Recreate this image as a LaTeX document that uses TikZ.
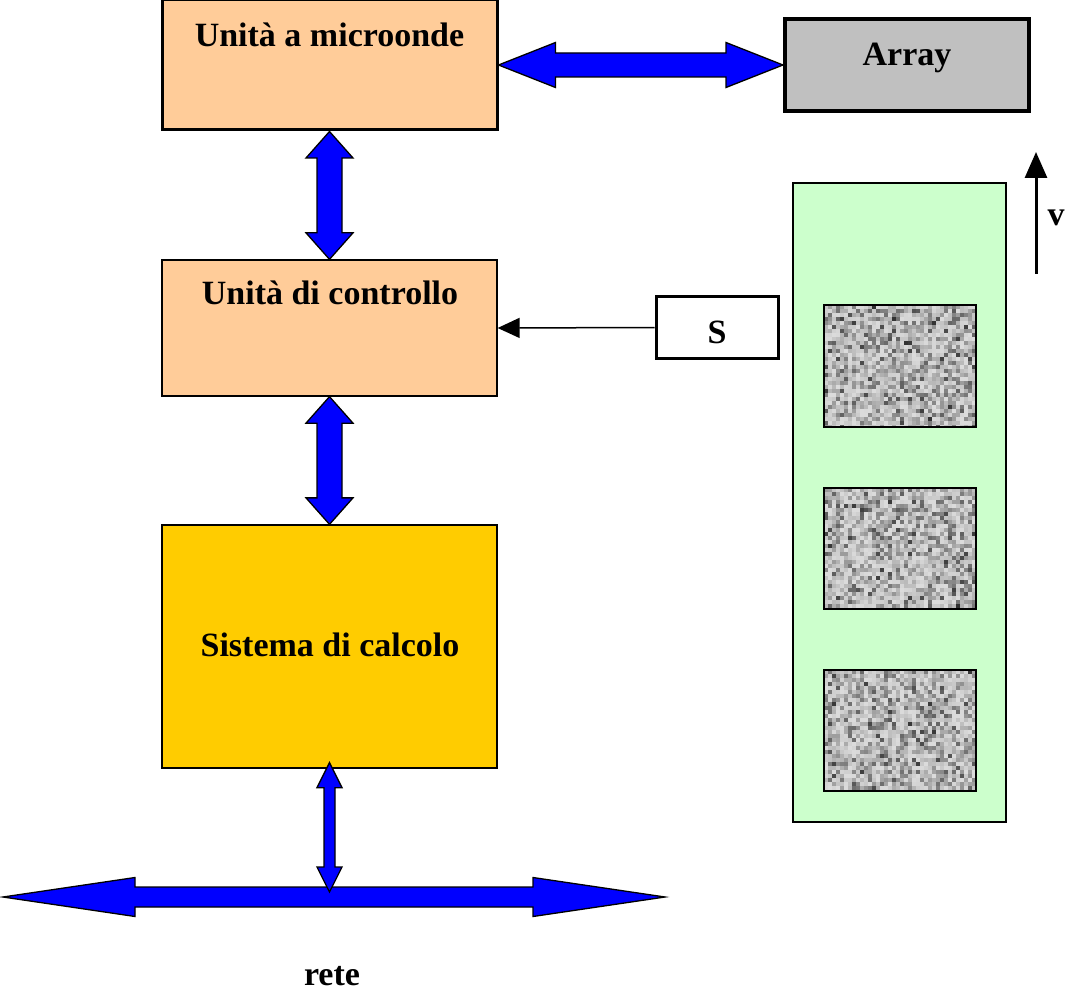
\documentclass[tikz,border=0pt]{standalone}
\usepackage{fontspec}
\setmainfont{Liberation Serif}
\usetikzlibrary{calc,arrows.meta}
\definecolor{peach}{HTML}{FFCC99}
\definecolor{gold}{HTML}{FFCC00}
\definecolor{mint}{HTML}{CCFFCC}
\definecolor{silver}{HTML}{C0C0C0}
\definecolor{fatblue}{HTML}{0000FF}

% #1 start, #2 end, #3 shaft half width, #4 head half width, #5 head length
\newcommand\fatarrow[5]{%
  \coordinate (fa1) at (#1);
  \coordinate (fa2) at (#2);
  \coordinate (fb1) at ($(fa1)!#5!(fa2)$);
  \coordinate (fb2) at ($(fa2)!#5!(fa1)$);
  \draw[fat] (fa1) -- ($(fb1)!#4!90:(fa2)$) -- ($(fb1)!#3!90:(fa2)$)
    -- ($(fb2)!#3!-90:(fa1)$) -- ($(fb2)!#4!-90:(fa1)$) -- (fa2)
    -- ($(fb2)!#4!90:(fa1)$) -- ($(fb2)!#3!90:(fa1)$)
    -- ($(fb1)!#3!-90:(fa2)$) -- ($(fb1)!#4!-90:(fa2)$) -- cycle;
}

\newcommand\granite[1]{%
  \begin{scope}
    \clip (#1.north west) rectangle (#1.south east);
    \fill[black!35!white] (#1.north west) rectangle (#1.south east);
    \begin{scope}[shift={(#1.north west)}]
      \foreach \i in {0,...,37} {\foreach \j in {0,...,30} {
        \pgfmathsetmacro\g{int(14+70*rnd*rnd)}
        \fill[black!\g!white] (\i*4,\j*4) rectangle +(4.3,4.3);
      }}
    \end{scope}
  \end{scope}
  \draw[line width=2pt] (#1.north west) rectangle (#1.south east);
}

\begin{document}
\begin{tikzpicture}[x=1pt,y=-1pt,
  font=\fontsize{34}{40}\selectfont\bfseries,
  box/.style={draw, inner sep=0pt, line width=1.3pt},
  lbl/.style={anchor=base, inner sep=0pt},
  fat/.style={fill=fatblue, draw=black, line width=1.3pt, line join=miter}]
\pgfmathsetseed{7}
\useasboundingbox (0,0) rectangle (1068,992);

% boxes
\node[box, fill=peach, line width=3pt, minimum width=335pt, minimum height=130pt] (mw) at (329.5,65) {};
\node[box, fill=silver, line width=4pt, minimum width=244pt, minimum height=92pt] (arr) at (907,65) {};
\node[box, fill=peach, minimum width=335pt, minimum height=136pt] (uc) at (329.5,328) {};
\node[box, fill=gold, minimum width=335pt, minimum height=243pt] (sc) at (329.5,646.5) {};
\node[box, fill=white, line width=3pt, minimum width=122pt, minimum height=61pt] (s) at (717,327.5) {};
\node[box, fill=mint, minimum width=213pt, minimum height=639pt] (belt) at (899.5,502.5) {};

% texts
\node[lbl] (mwt) at (329.5,47) {Unità a microonde};
\node[lbl] (arrt) at (907,66) {Array};
\node[lbl] (uct) at (330,305) {Unità di controllo};
\node[lbl] (sct) at (330,656) {Sistema di calcolo};
\node[lbl] (st) at (717,343) {S};
\node[lbl] (rete) at (332,985) {rete};
\node[lbl] (vt) at (1056,226) {v};

% textured samples
\node[inner sep=0pt, minimum width=152pt, minimum height=122pt] (sq1) at (900,366) {};
\node[inner sep=0pt, minimum width=152pt, minimum height=121pt] (sq2) at (900,548.5) {};
\node[inner sep=0pt, minimum width=152pt, minimum height=121pt] (sq3) at (900,730.5) {};
\granite{sq1}
\granite{sq2}
\granite{sq3}

% fat arrows
\fatarrow{mw.east}{arr.west}{12pt}{22.5pt}{57pt}
\fatarrow{mw.south}{uc.north}{12.5pt}{23.5pt}{26.5pt}
\fatarrow{uc.south}{sc.north}{12.5pt}{23.5pt}{26.5pt}
\coordinate (netL) at (3,897);
\coordinate (netR) at (665,897);
\coordinate (netC) at (329.5,892);
\coordinate (scb) at ($(sc.south)+(0,-6)$);
\fatarrow{netL}{netR}{10pt}{19.5pt}{132pt}
\fatarrow{scb}{netC}{5.5pt}{12.5pt}{25pt}

% sensor arrow
\draw[line width=1.5pt, -{Triangle[length=22pt,width=20pt]}] (s.west) -- (uc.east);

% velocity arrow
\coordinate (v0) at (1036,274);
\coordinate (v1) at (1036,152);
\draw[line width=3pt, -{Triangle[length=26pt,width=22pt]}] (v0) -- (v1);
\end{tikzpicture}
\end{document}
